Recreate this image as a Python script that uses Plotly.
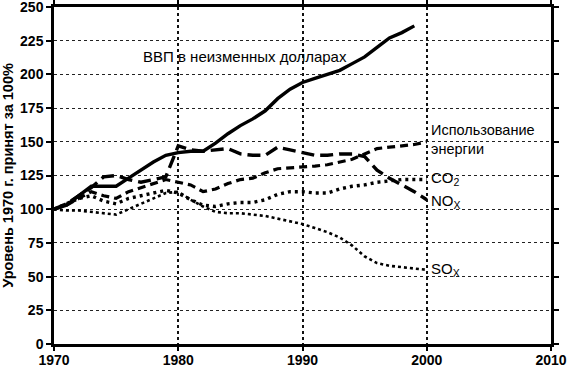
import plotly.graph_objects as go

years = list(range(1970, 2001))
gdp_years = list(range(1970, 2000))
gdp = [100, 103, 110, 117, 117, 117, 123, 129, 135, 140, 142, 143, 143, 149, 156,
       162, 167, 173, 182, 189, 194, 197, 200, 203, 208, 213, 220, 227, 231, 236]
energy = [100, 103, 108, 113, 110, 108, 113, 116, 119, 122, 120, 118, 113, 115, 119,
          122, 123, 127, 130, 130.5, 131, 132, 133, 135, 137, 141, 145, 146, 147, 148, 150]
co2 = [100, 104, 108, 110, 106, 104, 108, 110, 112, 114, 112, 107, 103, 102, 104,
       105, 105, 107, 111, 113, 113, 112, 112, 115, 117, 118, 120, 121, 122, 122, 122]
nox = [100, 104, 110, 116, 124, 125, 122, 120, 122, 124, 147, 144, 143, 144, 145,
       141, 140, 140, 146, 144, 142, 140, 140, 141, 141, 139, 129, 123, 118, 113, 107]
sox = [100, 99, 99, 98, 97, 96, 100, 104, 108, 112, 113, 107, 102, 98, 97,
       97, 96, 95, 93, 91, 89, 86, 83, 79, 73, 65, 60, 58, 57, 56, 55]

x_ticks = [1970, 1980, 1990, 2000, 2010]
y_ticks = [0, 25, 50, 75, 100, 125, 150, 175, 200, 225, 250]

FONT = "Liberation Sans, Arial, sans-serif"

fig = go.Figure()
fig.add_trace(go.Scatter(x=years, y=sox, mode="lines",
                         line=dict(color="black", width=2.6, dash="dot")))
fig.add_trace(go.Scatter(x=years, y=co2, mode="lines",
                         line=dict(color="black", width=3.4, dash="3px,4px")))
fig.add_trace(go.Scatter(x=years, y=energy, mode="lines",
                         line=dict(color="black", width=3.2, dash="8px,5px")))
fig.add_trace(go.Scatter(x=years, y=nox, mode="lines",
                         line=dict(color="black", width=3.4, dash="13px,6px")))
fig.add_trace(go.Scatter(x=gdp_years, y=gdp, mode="lines",
                         line=dict(color="black", width=3.4)))

font_lbl = dict(family=FONT, size=15, color="black")
ann = [
    dict(x=1985.4, y=213, text="ВВП в неизменных долларах", xanchor="center", yanchor="middle"),
    dict(x=2000.3, y=151.5, text="Использование<br>энергии", xanchor="left",
         yanchor="middle", align="left", font=dict(family=FONT, size=14.5, color="black")),
    dict(x=2000.3, y=123, text="CO<sub>2</sub>", xanchor="left", yanchor="middle"),
    dict(x=2000.3, y=106, text="NO<sub>X</sub>", xanchor="left", yanchor="middle"),
    dict(x=2000.3, y=55, text="SO<sub>X</sub>", xanchor="left", yanchor="middle"),
]
for a in ann:
    a.setdefault("font", font_lbl)
    fig.add_annotation(**a, showarrow=False, borderpad=0)

fig.update_layout(
    width=570, height=367,
    margin=dict(l=54, r=19, t=7, b=23, autoexpand=False),
    paper_bgcolor="white", plot_bgcolor="white",
    showlegend=False,
    font=dict(family=FONT, color="black"),
)
fig.update_xaxes(
    range=[1970, 2010], tickvals=x_ticks, ticktext=[str(v) for v in x_ticks],
    showgrid=True, gridcolor="#111", gridwidth=1.5, griddash="dot",
    showline=True, linecolor="black", linewidth=2.5, mirror="all",
    ticks="outside", ticklen=4, tickwidth=2, tickcolor="black",
    tickfont=dict(size=14, family=FONT, weight="bold"),
    ticklabelstandoff=-3, ticklabeloverflow="allow",
    zeroline=False, automargin=False,
)
fig.update_yaxes(
    range=[0, 250], tickvals=y_ticks,
    showgrid=True, gridcolor="#222", gridwidth=1, griddash="dot",
    showline=True, linecolor="black", linewidth=2.5, mirror="all",
    ticks="outside", ticklen=5, tickwidth=2, tickcolor="black",
    tickfont=dict(size=14, family=FONT, weight="bold"),
    ticklabeloverflow="allow",
    title=dict(text="Уровень 1970 г. принят за 100%", standoff=4,
               font=dict(size=14.5, family=FONT, weight="bold")),
    zeroline=False, automargin=False,
)

fig.write_html(
    "out.html",
    config={"displayModeBar": False},
    post_script="document.body.style.margin='0';document.body.style.overflow='hidden';",
)
